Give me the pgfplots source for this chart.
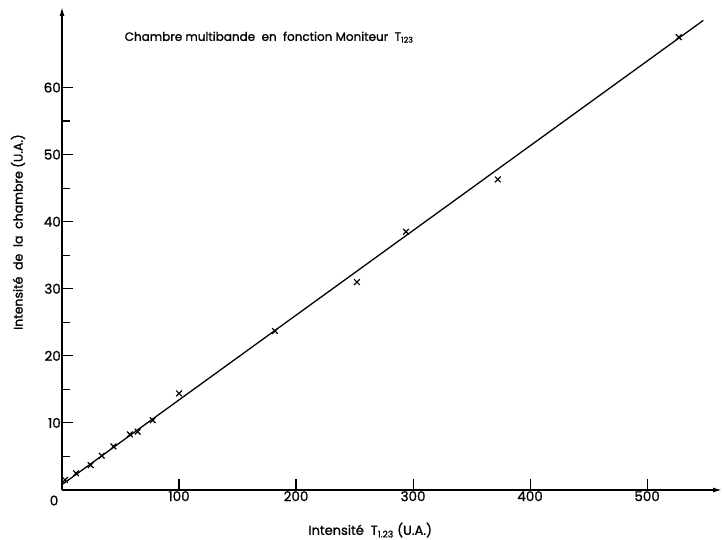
\documentclass[border=0pt]{standalone}
\usepackage{fontspec}
\setmainfont{Poppins}[FakeBold=1.2]
\usepackage{pgfplots}
\pgfplotsset{compat=1.18}
\usetikzlibrary{arrows.meta}
\begin{document}
\begin{tikzpicture}
\begin{axis}[
  scale only axis,
  width=660pt, height=483pt,
  xmin=0, xmax=564, ymin=0, ymax=72,
  axis lines=left,
  axis line style={line width=1.4pt, -{Latex[length=9pt,width=5pt]}},
  xtick={100,200,300,400,500},
  ytick={10,20,30,40,50,60},
  minor ytick={5,15,25,35,45,55},
  tick align=inside,
  major tick length=11pt,
  minor tick length=8pt,
  tick style={line width=1.1pt, black},
  /pgf/number format/assume math mode=true,
  ticklabel style={font=\fontsize{13.5}{13.5}\selectfont},
  yticklabel style={inner sep=1pt},
  xticklabel style={inner sep=1pt},
  xlabel={Intensité \ T\textsubscript{1.23} (U.A.)},
  ylabel={Intensité \ de \ la \ chambre (U.A.)},
  label style={font=\fontsize{12.5}{12.5}\selectfont},
  xlabel style={at={(axis description cs:0.467,-0.083)}, anchor=center, font=\fontsize{13}{13}\selectfont},
  ylabel style={at={(axis description cs:-0.0667,0.534)}, anchor=center},
  clip=false,
]
\addplot[black, line width=1.3pt, no marks] coordinates {(0,0.8) (548,70)};
\addplot[only marks, mark=x, mark size=4pt, mark options={line width=1.2pt, black}] coordinates {
(2.6,1.5) (12,2.5) (24.5,3.7) (34,5.1) (44,6.5) (58,8.3) (64.7,8.7) (77.5,10.4)
(100,14.4) (182,23.7) (252,31.0) (294,38.5) (372.4,46.3) (527,67.5)
};
\node[anchor=north east, font=\fontsize{13.5}{13.5}\selectfont, inner sep=0pt] at (axis cs:-3,-0.8) {0};
\node[anchor=center, font=\fontsize{12}{12}\selectfont] at (axis cs:177,67.5) {Chambre multibande \ en \ fonction Moniteur \ T\textsubscript{123}};
\end{axis}
\pgfresetboundingbox
\path (-62pt,-50pt) rectangle (661pt,490pt);
\end{tikzpicture}
\end{document}
